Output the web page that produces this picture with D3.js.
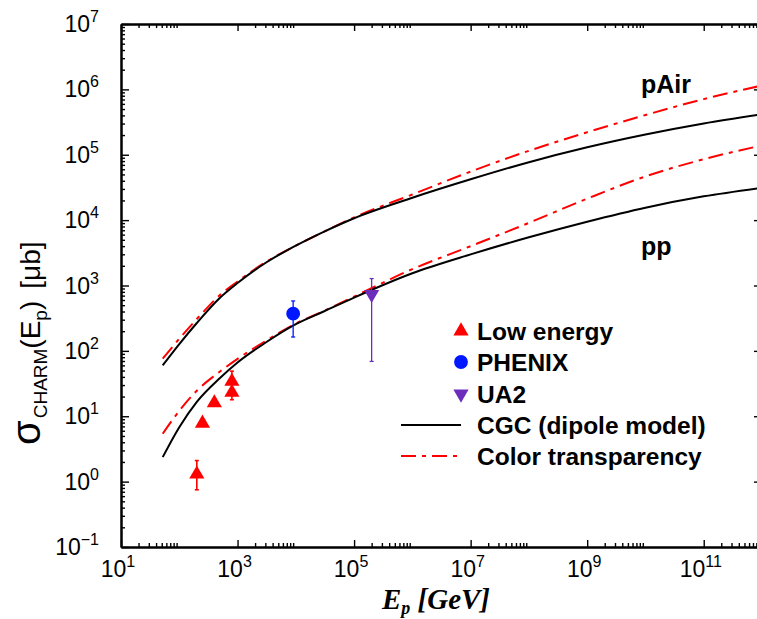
<!DOCTYPE html>
<html>
<head>
<meta charset="utf-8">
<script src="https://cdn.jsdelivr.net/npm/d3@7"></script>
<style>
  html, body { margin: 0; padding: 0; background: #fff; }
  svg { display: block; }
</style>
</head>
<body>
<svg id="chart" width="757" height="619"></svg>
<script>
// Charm production cross section vs. proton energy (pp and pAir)

// Energy grid of the model curves [GeV]
const energies = [52, 1e2, 2e2, 5e2, 1e3, 3e3, 1e4, 3e4, 1e5, 1e6, 1e7, 1e8, 1e9, 1e10, 1e11, 1e12];

// Model curves, sigma in microbarn
const pAirCGC = [60, 127, 267, 650, 1090, 2210, 4070, 6620, 10700, 22000, 42100, 76900, 130000, 204000, 301000, 416000];
const pAirCT  = [76, 153, 307, 716, 1150, 2260, 4070, 6620, 11000, 24700, 55300, 115000, 221000, 405000, 710000, 1145000];
const ppCGC   = [2.37, 6.8, 16.6, 38.5, 66.4, 133, 256, 400, 653, 1540, 2990, 5470, 9460, 15500, 23100, 31300];
const ppCT    = [5.4, 12.1, 24.6, 48.4, 75.5, 141, 262, 405, 676, 1780, 4000, 9080, 21300, 46600, 85500, 139000];

// Measurements: energy, sigma, error bar low / high (null = no bar)
const lowEnergyE   = [200, 250, 400, 800, 800];
const lowEnergySig = [1.3, 7.8, 16, 23.1, 34.1];
const lowEnergyLo  = [0.75, null, null, 17.9, null];
const lowEnergyHi  = [2.1, null, null, null, 49];

const phenixE = [9000];
const phenixSig = [371];
const phenixLo = [163];
const phenixHi = [580];

const ua2E = [2e5];
const ua2Sig = [733];
const ua2Lo = [69];
const ua2Hi = [1276];

// Axis decades
const xTickExponents = [1, 3, 5, 7, 9, 11];
const yTickExponents = [-1, 0, 1, 2, 3, 4, 5, 6, 7];

// Legend entries
const legendLabels = ["Low energy", "PHENIX", "UA2", "CGC (dipole model)", "Color transparency"];

const svg = d3.select("#chart");
const pLeft = 121, pRight = 762, pTop = 24, pBottom = 547;

const x = d3.scaleLog().domain([1e1, 1e12]).range([pLeft, pRight]);
const y = d3.scaleLog().domain([1e-1, 1e7]).range([pBottom, pTop]);

const RED = "#ff0000", BLUE = "#0018ff", PURPLE = "#6c2dbd";
const sans = "'Liberation Sans', Arial, Helvetica, sans-serif";
const serif = "'Liberation Serif', 'Times New Roman', Times, serif";

svg.append("defs").append("clipPath").attr("id", "plot")
  .append("rect").attr("x", pLeft).attr("y", pTop)
  .attr("width", pRight - pLeft).attr("height", pBottom - pTop);

// ---- axes: inward ticks on all four sides ----
const xMajor = xTickExponents.map(k => Math.pow(10, k));
const xMinor = [];
xTickExponents.forEach(k => { for (let m = 2; m <= 9; m++) xMinor.push(m * Math.pow(10, k)); });
const yMajor = yTickExponents.map(k => Math.pow(10, k));
const yMinor = [];
yTickExponents.slice(0, -1).forEach(k => { for (let m = 2; m <= 9; m++) yMinor.push(m * Math.pow(10, k)); });

function styleAxis(g) {
  g.select(".domain").attr("stroke", "#000").attr("stroke-width", 2);
  g.selectAll(".tick line").attr("stroke", "#000").attr("stroke-width", 1.4);
  g.selectAll(".tick text").remove();
}

const axes = [
  [d3.axisBottom, `translate(0,${pBottom})`, x, xMajor, xMinor, 7],
  [d3.axisTop, `translate(0,${pTop})`, x, xMajor, xMinor, 7],
  [d3.axisLeft, `translate(${pLeft},0)`, y, yMajor, yMinor, 8],
  [d3.axisRight, `translate(${pRight},0)`, y, yMajor, yMinor, 8]
];
axes.forEach(([fn, tr, sc, maj, min, len]) => {
  svg.append("g").attr("transform", tr)
    .call(fn(sc).tickValues(min).tickSize(-4).tickSizeOuter(0).tickFormat(""))
    .call(styleAxis);
  svg.append("g").attr("transform", tr)
    .call(fn(sc).tickValues(maj).tickSize(-len).tickSizeOuter(0).tickFormat(""))
    .call(styleAxis);
});

// power-of-ten labels
function powLabel(sel, exp) {
  sel.append("tspan").text("10");
  sel.append("tspan").attr("dy", -10).attr("font-size", 16)
    .text(exp < 0 ? "\u2212" + (-exp) : String(exp));
}
svg.append("g").selectAll("text").data(xTickExponents).join("text")
  .attr("x", d => x(Math.pow(10, d)) - 3).attr("y", pBottom + 30)
  .attr("text-anchor", "middle").attr("font-family", sans).attr("font-size", 23)
  .each(function(d) { powLabel(d3.select(this), d); });
svg.append("g").selectAll("text").data(yTickExponents).join("text")
  .attr("x", 99).attr("y", d => y(Math.pow(10, d)) + 8)
  .attr("text-anchor", "end").attr("font-family", sans).attr("font-size", 23)
  .each(function(d) { powLabel(d3.select(this), d); });

// axis titles
const xt = svg.append("text").attr("x", 436).attr("y", 609)
  .attr("text-anchor", "middle").attr("font-family", serif)
  .attr("font-weight", "bold").attr("font-style", "italic").attr("font-size", 29);
xt.append("tspan").text("E");
xt.append("tspan").attr("dy", 5).attr("font-size", 18).text("p");
xt.append("tspan").attr("dy", -5).text(" [GeV]");

const yt = svg.append("text").attr("transform", "translate(40,445) rotate(-90)")
  .attr("text-anchor", "start").attr("font-family", sans).attr("font-size", 28);
yt.append("tspan").attr("font-size", 40).text("\u03c3");
yt.append("tspan").attr("dx", 2).attr("dy", 7).attr("font-size", 19).text("CHARM");
yt.append("tspan").attr("dy", -7).text("(E");
yt.append("tspan").attr("dy", 7).attr("font-size", 19).text("p");
yt.append("tspan").attr("dy", -7).text(")");
yt.append("tspan").attr("dx", 12).text("[\u03bcb]");

// ---- model curves ----
const plot = svg.append("g").attr("clip-path", "url(#plot)");
const line = d3.line().x(d => x(d[0])).y(d => y(d[1])).curve(d3.curveMonotoneX);
const DASH = "15,6,4,6";
[
  [pAirCT, RED, DASH], [pAirCGC, "#000", null],
  [ppCT, RED, DASH], [ppCGC, "#000", null]
].forEach(([vals, col, dash]) => {
  plot.append("path").datum(energies.map((e, i) => [e, vals[i]]))
    .attr("d", line).attr("fill", "none").attr("stroke", col)
    .attr("stroke-width", 2).attr("stroke-dasharray", dash);
});

// ---- data points with error bars ----
function drawSet(E, S, lo, hi, color, shape, size, rot, bw) {
  const g = plot.append("g");
  E.forEach((e, i) => {
    const cx = x(e);
    const bars = [];
    if (lo[i] != null) bars.push(lo[i]);
    if (hi[i] != null) bars.push(hi[i]);
    bars.forEach(v => {
      g.append("line").attr("x1", cx).attr("x2", cx)
        .attr("y1", y(S[i])).attr("y2", y(v))
        .attr("stroke", color).attr("stroke-width", bw);
      g.append("line").attr("x1", cx - 2).attr("x2", cx + 2)
        .attr("y1", y(v)).attr("y2", y(v))
        .attr("stroke", color).attr("stroke-width", bw);
    });
    g.append("path").attr("d", d3.symbol().type(shape).size(size)())
      .attr("transform", `translate(${cx},${y(S[i])}) rotate(${rot})`)
      .attr("fill", color);
  });
}
drawSet(lowEnergyE, lowEnergySig, lowEnergyLo, lowEnergyHi, RED, d3.symbolTriangle, 100, 0, 1.6);
drawSet(phenixE, phenixSig, phenixLo, phenixHi, BLUE, d3.symbolCircle, 150, 0, 1.3);
drawSet(ua2E, ua2Sig, ua2Lo, ua2Hi, PURPLE, d3.symbolTriangle, 100, 180, 1.3);

// ---- curve labels ----
svg.append("text").attr("x", 641).attr("y", 93).attr("font-family", sans)
  .attr("font-weight", "bold").attr("font-size", 25).text("pAir");
svg.append("text").attr("x", 641).attr("y", 255).attr("font-family", sans)
  .attr("font-weight", "bold").attr("font-size", 25).text("pp");

// ---- legend ----
const legY = [331, 362, 394, 425, 456];
const leg = svg.append("g");
const legendMarks = [
  g => g.append("path").attr("d", d3.symbol().type(d3.symbolTriangle).size(100)()).attr("fill", RED),
  g => g.append("path").attr("d", d3.symbol().type(d3.symbolCircle).size(150)()).attr("fill", BLUE),
  g => g.append("path").attr("d", d3.symbol().type(d3.symbolTriangle).size(100)()).attr("fill", PURPLE).attr("transform", "rotate(180)"),
  g => g.append("line").attr("x1", -60).attr("x2", 0).attr("stroke", "#000").attr("stroke-width", 2),
  g => g.append("line").attr("x1", -60).attr("x2", 0).attr("stroke", RED).attr("stroke-width", 2).attr("stroke-dasharray", DASH)
];
legendLabels.forEach((lab, i) => {
  const g = leg.append("g").attr("transform", `translate(461,${legY[i]})`);
  legendMarks[i](g);
  leg.append("text").attr("x", 477).attr("y", legY[i] + 8.5)
    .attr("font-family", sans).attr("font-weight", "bold").attr("font-size", 24.5).text(lab);
});
</script>
</body>
</html>
